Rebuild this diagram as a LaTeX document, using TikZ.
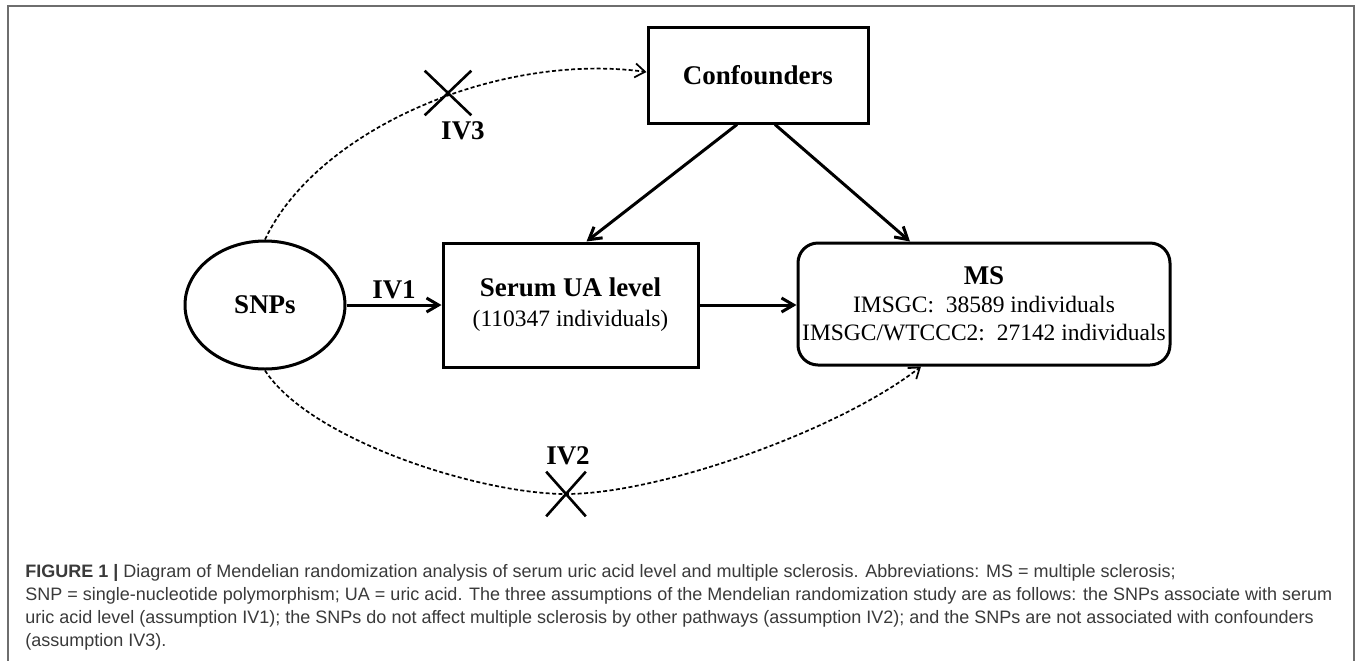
\documentclass[tikz,border=0pt]{standalone}
\usepackage{fontspec}
\setmainfont{Liberation Serif}
\newfontfamily\capfont{Liberation Sans}
\usetikzlibrary{arrows.meta,shapes.geometric,shapes.misc}
\definecolor{framegray}{HTML}{6E6E6E}
\definecolor{captext}{HTML}{3A3A3A}
\begin{document}
\begin{tikzpicture}[x=0.5pt,y=-0.5pt,
  box/.style={draw, line width=1.5pt, inner sep=0pt},
  boldtxt/.style={font=\fontsize{13.5}{15}\selectfont\bfseries},
  arr/.style={line width=1.5pt, -{Straight Barb[length=6pt,width=7pt]}},
  dashconn/.style={line width=0.85pt, dash pattern=on 2pt off 1.2pt, -{Straight Barb[length=5pt,width=7pt]}},
  xmark/.style={cross out, draw, line width=1.3pt, minimum width=20pt, minimum height=21pt, inner sep=0pt},
  capline/.style={anchor=base west, inner sep=0pt, font=\capfont\fontsize{9}{11}\selectfont, text=captext},
]
\useasboundingbox (0,0) rectangle (1357,660);
\fill[white] (0,0) rectangle (1357,660);
\draw[framegray, line width=0.9pt] (8,662) -- (8,6) -- (1354,6) -- (1354,662);

% nodes
\node[box, boldtxt, minimum width=110pt, minimum height=48pt] (conf) at (758,75) {Confounders};
\node[box, ellipse, boldtxt, minimum width=80pt, minimum height=64pt] (snps) at (265,305) {SNPs};
\node[box, align=center, font=\fontsize{11.75}{15}\selectfont, minimum width=127.5pt, minimum height=62pt] (serum) at (570.5,305)
  {{\fontsize{13.5}{15}\selectfont\bfseries Serum UA level}\\(110347 individuals)};
\node[box, rounded corners=10pt, align=center, font=\fontsize{11.75}{14}\selectfont, minimum width=186pt, minimum height=61pt] (ms) at (984,304)
  {{\fontsize{13.5}{14}\selectfont\bfseries MS}\\IMSGC:\ \ 38589 individuals\\IMSGC/WTCCC2:\ \ 27142 individuals};

% solid arrows
\draw[arr] (snps) -- node[midway, above=2.5pt, inner sep=0pt, boldtxt] {IV1} (serum);
\draw[arr] (serum.east) -- (serum.east -| ms.west);
\draw[arr] ([xshift=-10.5pt]conf.south) -- ([xshift=8pt]serum.north);
\draw[arr] ([xshift=8.5pt]conf.south) -- ([xshift=-37pt]ms.north);

% dashed arrows
\coordinate (x3) at (448,93);
\coordinate (x2) at (566,494);
\draw[dashconn] (snps.north) .. controls (318,128) and (500,52) .. ([yshift=1.5pt]conf.west);
\draw[dashconn] (snps.south) .. controls (310,440) and (480,494) .. (x2)
  .. controls (660,494) and (840,430) .. ([xshift=-31.5pt]ms.south);

% crosses and labels
\node[xmark, minimum width=22pt] (c3) at (x3) {};
\node[xmark, minimum width=18.5pt] (c2) at (x2) {};
\node[boldtxt, inner sep=0pt] (iv3) at (463,131) {IV3};
\node[boldtxt, inner sep=0pt] (iv2) at (568,456) {IV2};

% caption
\node[capline] (cap1) at (25,577) {\textbf{FIGURE 1 |} Diagram of Mendelian randomization analysis of serum uric acid level and multiple sclerosis. Abbreviations: MS = multiple sclerosis;};
\node[capline] (cap2) at (25,600) {SNP = single-nucleotide polymorphism; UA = uric acid. The three assumptions of the Mendelian randomization study are as follows: the SNPs associate with serum};
\node[capline] (cap3) at (25,623) {uric acid level (assumption IV1); the SNPs do not affect multiple sclerosis by other pathways (assumption IV2); and the SNPs are not associated with confounders};
\node[capline] (cap4) at (25,646) {(assumption IV3).};
\end{tikzpicture}
\end{document}
